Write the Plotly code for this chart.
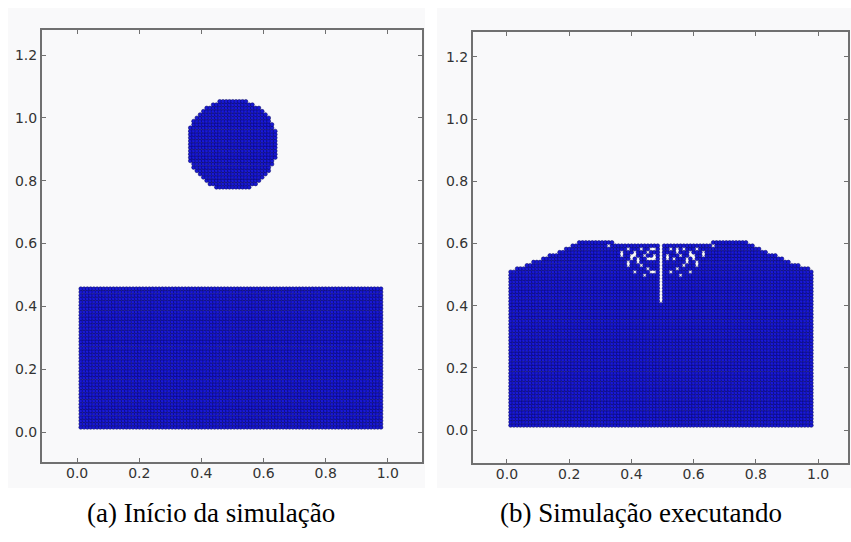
import numpy as np
import plotly.graph_objects as go

# particle lattice spacing (domain units)
SPACING = 0.0105

# (a) initial state: resting water block and a falling drop
BLOCK_X = [0.012, 0.985]
BLOCK_Y = [0.015, 0.462]
DROP_CENTER = [0.5, 0.915]
DROP_RADIUS = 0.146

# (b) running: free-surface outline after the drop hits the block
SURFACE_X = [0.012, 0.06, 0.13, 0.18, 0.225, 0.30, 0.40, 0.50, 0.60, 0.70, 0.775, 0.82, 0.87, 0.94, 0.988]
SURFACE_Y = [0.512, 0.530, 0.558, 0.580, 0.603, 0.605, 0.600, 0.595, 0.600, 0.605, 0.603, 0.580, 0.558, 0.530, 0.512]
FLUID_BOTTOM = 0.015

# splash region: central slit and scattered voids
SLIT_X = 0.495
SLIT_Y = [0.405, 0.595]
VOID_X = [0.37, 0.39, 0.41, 0.43, 0.45, 0.47, 0.40, 0.42, 0.44, 0.46, 0.39, 0.43, 0.45, 0.41, 0.44, 0.47,
          0.63, 0.61, 0.59, 0.57, 0.55, 0.53, 0.60, 0.58, 0.56, 0.54, 0.61, 0.57, 0.55, 0.59, 0.56, 0.53,
          0.475, 0.515, 0.33, 0.66]
VOID_Y = [0.565, 0.580, 0.565, 0.580, 0.575, 0.585, 0.555, 0.545, 0.560, 0.550, 0.535, 0.530, 0.520, 0.510, 0.495, 0.505,
          0.565, 0.580, 0.565, 0.580, 0.575, 0.585, 0.555, 0.545, 0.560, 0.550, 0.535, 0.530, 0.520, 0.510, 0.495, 0.505,
          0.555, 0.555, 0.595, 0.595]
VOID_R = 0.0075

X_TICKS = [0.0, 0.2, 0.4, 0.6, 0.8, 1.0]
Y_TICKS = [0.0, 0.2, 0.4, 0.6, 0.8, 1.0, 1.2]
CAPTIONS = ["(a) Início da simulação", "(b) Simulação executando"]


def lattice(x0, x1, y0, y1):
    xs = np.arange(x0, x1 + 1e-9, SPACING)
    ys = np.arange(y0, y1 + 1e-9, SPACING)
    gx, gy = np.meshgrid(xs, ys)
    return gx.ravel(), gy.ravel()


# panel (a) particles
bx, by = lattice(BLOCK_X[0], BLOCK_X[1], BLOCK_Y[0], BLOCK_Y[1])
dx, dy = lattice(DROP_CENTER[0] - DROP_RADIUS, DROP_CENTER[0] + DROP_RADIUS,
                 DROP_CENTER[1] - DROP_RADIUS, DROP_CENTER[1] + DROP_RADIUS)
inside = (dx - DROP_CENTER[0]) ** 2 + (dy - DROP_CENTER[1]) ** 2 <= DROP_RADIUS ** 2
ax_x = np.concatenate([bx, dx[inside]])
ax_y = np.concatenate([by, dy[inside]])

# panel (b) particles: fill below the free surface, minus splash voids
fx, fy = lattice(SURFACE_X[0], SURFACE_X[-1], FLUID_BOTTOM, max(SURFACE_Y))
keep = fy <= np.interp(fx, SURFACE_X, SURFACE_Y)
keep &= ~((np.abs(fx - SLIT_X) < 0.003) & (fy >= SLIT_Y[0]) & (fy <= SLIT_Y[1]))
for vx, vy in zip(VOID_X, VOID_Y):
    keep &= (fx - vx) ** 2 + (fy - vy) ** 2 > VOID_R ** 2
bx2, by2 = fx[keep], fy[keep]

marker = dict(size=4, color="#1a1ad6", line=dict(width=0.5, color="#00005a"))

fig = go.Figure()
fig.add_trace(go.Scatter(x=ax_x, y=ax_y, mode="markers", marker=marker,
                         xaxis="x", yaxis="y", showlegend=False, hoverinfo="skip"))
fig.add_trace(go.Scatter(x=bx2, y=by2, mode="markers", marker=marker,
                         xaxis="x2", yaxis="y2", showlegend=False, hoverinfo="skip"))

W, H = 851, 542


def px(v):
    return v / W


def py(v):
    return 1 - v / H


axis_common = dict(
    showgrid=False, zeroline=False, showline=True, linecolor="#707070", linewidth=2,
    mirror="allticks", ticks="inside", ticklen=4, tickwidth=1, tickcolor="#707070",
    tickfont=dict(family="DejaVu Sans", size=14, color="#333333"), tickformat=".1f",
)

serif = "Liberation Serif, Times New Roman, serif"

fig.update_layout(
    width=W, height=H, margin=dict(l=0, r=0, t=0, b=0),
    paper_bgcolor="white", plot_bgcolor="#fdfdfd",
    xaxis=dict(domain=[px(42), px(422)], range=[-0.113, 1.11], tickvals=X_TICKS,
               anchor="y", ticklabelstandoff=-3, **axis_common),
    yaxis=dict(domain=[py(462), py(30)], range=[-0.0955, 1.28], tickvals=Y_TICKS,
               anchor="x", **axis_common),
    xaxis2=dict(domain=[px(473), px(848)], range=[-0.109, 1.096], tickvals=X_TICKS,
                anchor="y2", ticklabelstandoff=-3, **axis_common),
    yaxis2=dict(domain=[py(463), py(32)], range=[-0.106, 1.28], tickvals=Y_TICKS,
                anchor="x2", **axis_common),
    shapes=[
        dict(type="rect", xref="paper", yref="paper", x0=px(8), x1=px(425),
             y0=py(488), y1=py(8), fillcolor="#f9f9fa", line=dict(width=0), layer="below"),
        dict(type="rect", xref="paper", yref="paper", x0=px(437), x1=px(851),
             y0=py(488), y1=py(8), fillcolor="#f9f9fa", line=dict(width=0), layer="below"),
    ],
    annotations=[
        dict(text=CAPTIONS[0], xref="paper", yref="paper", x=px(211), y=py(513),
             showarrow=False, xanchor="center", yanchor="middle",
             font=dict(family=serif, size=27, color="black")),
        dict(text=CAPTIONS[1], xref="paper", yref="paper", x=px(641), y=py(513),
             showarrow=False, xanchor="center", yanchor="middle",
             font=dict(family=serif, size=27, color="black")),
    ],
)

fig.write_html("out.html")
